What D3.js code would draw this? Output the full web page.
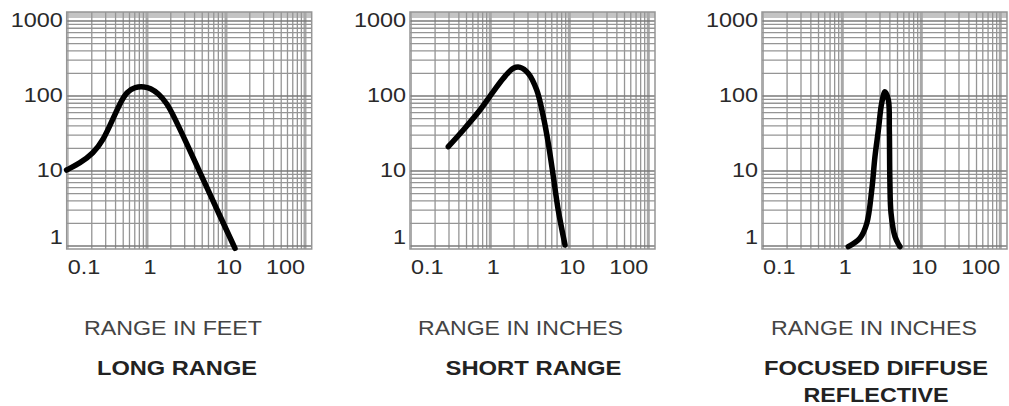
<!DOCTYPE html>
<html>
<head>
<meta charset="utf-8">
<script src="https://cdn.jsdelivr.net/npm/d3@7"></script>
<style>
  html, body { margin: 0; padding: 0; background: #fff; }
  svg { display: block; }
</style>
</head>
<body>
<svg id="chart" width="1009" height="406"></svg>
<script>
// ---------- data ----------
const xTickValues = [0.1, 1, 10, 100];
const xTickLabels = ["0.1", "1", "10", "100"];
const yTickValues = [1, 10, 100, 1000];
const yTickLabels = ["1", "10", "100", "1000"];

// Long range (range in feet)
const longRangeX = [0.096, 0.142, 0.209, 0.28, 0.357, 0.455, 0.553, 0.705, 0.94, 1.09, 1.39, 1.78, 2.15, 3.2, 4.69, 8.4, 13.0];
const longRangeY = [10.3, 12.7, 17.2, 25.9, 45.5, 80, 114, 133, 133, 127, 109, 80, 55.8, 23, 9.5, 2.5, 0.93];

// Short range (range in inches)
const shortRangeX = [0.294, 0.455, 0.74, 1.09, 1.46, 1.96, 2.38, 3.03, 3.87, 4.69, 5.42, 6.28, 7.25, 8.83];
const shortRangeY = [21.1, 35.2, 65, 114, 172, 234, 241, 200, 120, 53, 23.4, 8.4, 3.0, 1.03];

// Focused diffuse reflective (range in inches)
const focusedX = [1.19, 1.67, 2.04, 2.36, 2.59, 2.86, 3.15, 3.47, 3.83, 3.94, 4.0, 4.14, 4.65, 5.37];
const focusedY = [0.98, 1.27, 2.0, 5.6, 15.5, 35, 80, 114, 88, 35, 7.6, 2.73, 1.33, 0.98];

const unitTitles = ["RANGE IN FEET", "RANGE IN INCHES", "RANGE IN INCHES"];
const modeTitles = [["LONG RANGE"], ["SHORT RANGE"], ["FOCUSED DIFFUSE", "REFLECTIVE"]];

// ---------- layout ----------
const panelLefts = [66.7, 410, 762];
const plotW = 245, plotTop = 12, plotBottom = 249;
const unitCenters = [173, 520.5, 874];
const unitWidths = [178, 205, 206];
const modeCenters = [177, 533.5, 876];
const modeWidths = [[160], [176], [224, 145]];
const curveTypes = [d3.curveBasis, d3.curveCatmullRom.alpha(0.5), d3.curveCatmullRom.alpha(0.5)];
const series = [
  longRangeX.map((v, i) => [v, longRangeY[i]]),
  shortRangeX.map((v, i) => [v, shortRangeY[i]]),
  focusedX.map((v, i) => [v, focusedY[i]])
];

const svg = d3.select("#chart");
const gridColor = "#959595";
const isDecade = v => Math.abs(Math.log10(v) - Math.round(Math.log10(v))) < 1e-9;

panelLefts.forEach((left, p) => {
  const g = svg.append("g");
  const x = d3.scaleLog().domain([0.1, 100]).range([left + 1.3, left + 238.3]);
  const y = d3.scaleLog().domain([1, 1000]).range([246, 21]);
  const right = left + plotW;

  // top band
  g.append("rect").attr("x", left).attr("y", plotTop).attr("width", plotW).attr("height", 6)
    .attr("fill", "#c4c4c4");

  // grid lines
  const xGrid = [], yGrid = [];
  [0.1, 1, 10, 100].forEach(k => { for (let m = 1; m <= 9; m++) xGrid.push(m * k); });
  [1, 10, 100, 1000].forEach(k => { for (let m = 1; m <= 9; m++) yGrid.push(m * k); });
  g.selectAll(".vx").data(xGrid.filter(v => x(v) >= left && x(v) <= right)).join("line")
    .attr("x1", d => x(d)).attr("x2", d => x(d)).attr("y1", plotTop).attr("y2", plotBottom)
    .attr("stroke", d => isDecade(d) ? "#a8a8a8" : gridColor)
    .attr("stroke-width", d => (isDecade(d) && d > 0.5) ? 3 : 1.3);
  g.selectAll(".hy").data(yGrid.filter(v => y(v) >= plotTop && y(v) <= plotBottom)).join("line")
    .attr("x1", left).attr("x2", right).attr("y1", d => y(d)).attr("y2", d => y(d))
    .attr("stroke", d => isDecade(d) ? "#7a7a7a" : gridColor)
    .attr("stroke-width", d => isDecade(d) ? 1.6 : 1.3);

  // border
  g.append("rect").attr("x", left).attr("y", plotTop).attr("width", plotW).attr("height", plotBottom - plotTop)
    .attr("fill", "none").attr("stroke", gridColor).attr("stroke-width", 1.5);

  // y labels
  yTickValues.forEach((v, i) => {
    const yy = Math.min(y(v), plotBottom - 11);
    g.append("text")
      .attr("transform", `translate(${left - 4},${yy}) scale(1.2,1)`)
      .attr("text-anchor", "end").attr("dominant-baseline", "central")
      .attr("font-family", "Liberation Sans, Arial, sans-serif").attr("font-size", 19.5)
      .attr("fill", "#2a2a2a").text(yTickLabels[i]);
  });

  // x labels
  xTickValues.forEach((v, i) => {
    const anchor = i === 0 ? "start" : (i === xTickValues.length - 1 ? "end" : "middle");
    const xx = i === 0 ? left + 1 : x(v) + (anchor === "middle" ? 3 : 0);
    g.append("text")
      .attr("transform", `translate(${xx},${268}) scale(1.2,1)`)
      .attr("text-anchor", anchor).attr("dominant-baseline", "central")
      .attr("font-family", "Liberation Sans, Arial, sans-serif").attr("font-size", 19.5)
      .attr("fill", "#2a2a2a").text(xTickLabels[i]);
  });

  // curve
  const line = d3.line().x(d => x(d[0])).y(d => y(d[1])).curve(curveTypes[p]);
  g.append("path").attr("d", line(series[p])).attr("fill", "none")
    .attr("stroke", "#000").attr("stroke-width", 5.5)
    .attr("stroke-linecap", "round").attr("stroke-linejoin", "round");

  // titles
  g.append("text").attr("x", unitCenters[p]).attr("y", 335)
    .attr("text-anchor", "middle").attr("font-family", "Liberation Sans, Arial, sans-serif")
    .attr("font-size", 20).attr("fill", "#444")
    .attr("textLength", unitWidths[p]).attr("lengthAdjust", "spacingAndGlyphs")
    .text(unitTitles[p]);
  modeTitles[p].forEach((t, j) => {
    g.append("text").attr("x", modeCenters[p]).attr("y", 375 + j * 27)
      .attr("text-anchor", "middle").attr("font-family", "Liberation Sans, Arial, sans-serif")
      .attr("font-size", 20).attr("font-weight", "bold").attr("fill", "#222")
      .attr("textLength", modeWidths[p][j]).attr("lengthAdjust", "spacingAndGlyphs")
      .text(t);
  });
});
</script>
</body>
</html>
